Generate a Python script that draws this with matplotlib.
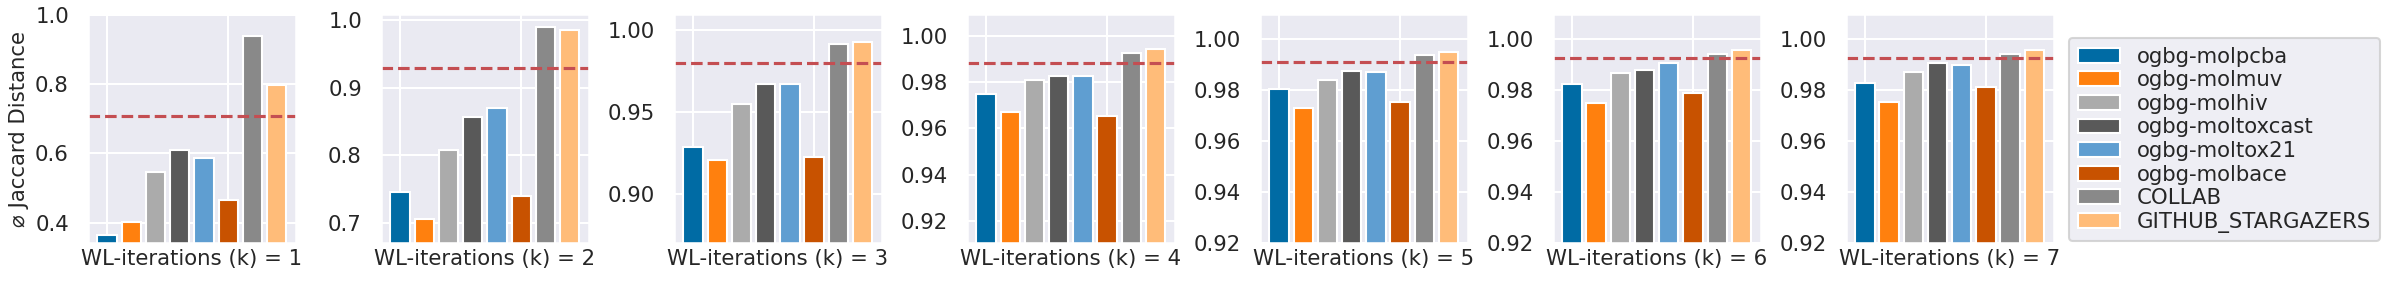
import matplotlib
matplotlib.use("Agg")
import matplotlib.pyplot as plt
import seaborn as sns

# datasets (legend order) and WL iterations
datasets = ["ogbg-molpcba", "ogbg-molmuv", "ogbg-molhiv", "ogbg-moltoxcast",
            "ogbg-moltox21", "ogbg-molbace", "COLLAB", "GITHUB_STARGAZERS"]
k_values = [1, 2, 3, 4, 5, 6, 7]

# mean jaccard distance per dataset, one value per k
molpcba = [0.363, 0.746, 0.9288, 0.9747, 0.9804, 0.9822, 0.9829]
molmuv = [0.402, 0.706, 0.9205, 0.9669, 0.9730, 0.9747, 0.9751]
molhiv = [0.547, 0.808, 0.9549, 0.9809, 0.9840, 0.9866, 0.9869]
moltoxcast = [0.609, 0.856, 0.9668, 0.9827, 0.9874, 0.9877, 0.9905]
moltox21 = [0.586, 0.870, 0.9668, 0.9827, 0.9871, 0.9905, 0.9897]
molbace = [0.4645, 0.740, 0.9225, 0.9653, 0.9753, 0.9788, 0.9812]
collab = [0.939, 0.989, 0.9911, 0.9928, 0.9936, 0.9940, 0.9940]
github = [0.799, 0.985, 0.9927, 0.9942, 0.9948, 0.9955, 0.9958]

# dashed reference line per k
ref_line = [0.709, 0.929, 0.9797, 0.9885, 0.9909, 0.9923, 0.9923]

# y ticks per panel
ytick_sets = [[0.4, 0.6, 0.8, 1.0],
              [0.7, 0.8, 0.9, 1.0],
              [0.90, 0.95, 1.00],
              [0.92, 0.94, 0.96, 0.98, 1.00],
              [0.92, 0.94, 0.96, 0.98, 1.00],
              [0.92, 0.94, 0.96, 0.98, 1.00],
              [0.92, 0.94, 0.96, 0.98, 1.00]]
y_bottom = [0.340, 0.6706, 0.870, 0.9103, 0.92, 0.92, 0.92]
y_top = [1.003, 1.0083, 1.0095, 1.0095, 1.0097, 1.0097, 1.0097]

colors = ["#006BA4", "#FF800E", "#ABABAB", "#595959",
          "#5F9ED1", "#C85200", "#898989", "#FFBC79"]

sns.set_theme(style="darkgrid", context="talk")
plt.rcParams["font.family"] = ["DejaVu Sans"]
fs = 15.3
plt.rcParams["font.size"] = fs
plt.rcParams["axes.labelsize"] = fs
plt.rcParams["xtick.labelsize"] = fs
plt.rcParams["ytick.labelsize"] = fs
plt.rcParams["legend.fontsize"] = fs
plt.rcParams["xtick.major.size"] = 0
plt.rcParams["ytick.major.size"] = 0
plt.rcParams["xtick.major.pad"] = 0
plt.rcParams["ytick.major.pad"] = 13.7

series = [molpcba, molmuv, molhiv, moltoxcast, moltox21, molbace, collab, github]

fig, axes = plt.subplots(1, 7, figsize=(23.92, 2.84), dpi=100)
fig.subplots_adjust(left=0.0368, right=0.8585, top=0.9507, bottom=0.1433, wspace=0.41)

for i, ax in enumerate(axes):
    for j, name in enumerate(datasets):
        ax.bar(j, series[j][i], width=0.8, color=colors[j], edgecolor="white",
               linewidth=1.5, label=name)
    ax.axhline(ref_line[i], color="#C44E52", linestyle="--", linewidth=2.25)
    ax.set_xticks([0, 5])
    ax.set_xticklabels([])
    ax.set_yticks(ytick_sets[i])
    ax.set_ylim(y_bottom[i], y_top[i])
    ax.set_xlabel(f"WL-iterations (k) = {k_values[i]}", labelpad=4.3)

axes[0].set_ylabel("⌀ Jaccard Distance", labelpad=4.5)

handles, labels = axes[0].get_legend_handles_labels()
fig.legend(handles, labels, loc="center left", bbox_to_anchor=(0.865, 0.508),
           bbox_transform=fig.transFigure, borderaxespad=0, labelspacing=0.17)

fig.savefig("out.png", dpi=100)
